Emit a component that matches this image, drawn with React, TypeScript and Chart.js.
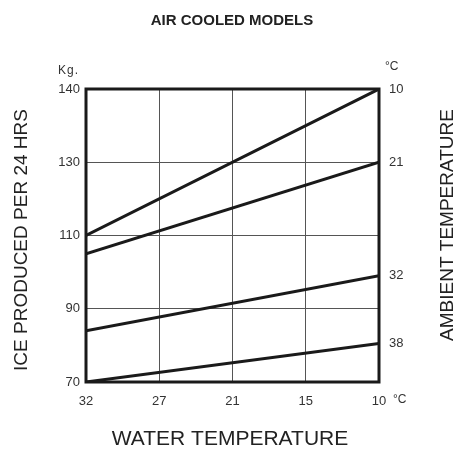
import React, { useEffect, useRef } from "react";
import { Chart, registerables } from "chart.js";

Chart.register(...registerables);

// Axis tick labels (equally spaced on the chart, non-linear values)
const yTickValues = [70, 90, 110, 130, 140]; // Kg
const xTickValues = [32, 27, 21, 15, 10]; // water temperature °C

// Water temperature at the two ends of each line
const waterTemps = [32, 10];

// Ice produced per 24 hrs (Kg) for each ambient temperature
const ambient10 = [110, 140];
const ambient21 = [105, 130];
const ambient32 = [84, 99];
const ambient38 = [70, 80.5];

const ambientLabels = ["10", "21", "32", "38"];
const ambientSeries = [ambient10, ambient21, ambient32, ambient38];

const FONT = "'Liberation Sans', Arial, Helvetica, sans-serif";

function piecewise(v: number, vals: number[]): number {
  for (let i = 0; i < vals.length - 1; i++) {
    const a = vals[i], b = vals[i + 1];
    const lo = Math.min(a, b), hi = Math.max(a, b);
    if (v >= lo && v <= hi) return i + (v - a) / (b - a);
  }
  return v < Math.min(vals[0], vals[vals.length - 1]) ? 0 : vals.length - 1;
}

const kgPos = (v: number) => piecewise(v, yTickValues);
const wtPos = (v: number) => piecewise(v, xTickValues);

export default function App() {
  const ref = useRef<HTMLCanvasElement | null>(null);

  useEffect(() => {
    if (!ref.current) return;

    const textPlugin = {
      id: "texts",
      afterDraw(chart: any) {
        const ctx = chart.ctx as CanvasRenderingContext2D;
        const { left, right, top, bottom } = chart.chartArea;
        ctx.save();
        // frame
        ctx.strokeStyle = "#1a1a1a";
        ctx.lineWidth = 3;
        ctx.strokeRect(left, top, right - left, bottom - top);

        ctx.fillStyle = "#222";
        ctx.textAlign = "center";
        ctx.textBaseline = "middle";
        ctx.font = `bold 15px ${FONT}`;
        ctx.fillText("AIR COOLED MODELS", 232, 21);

        ctx.font = `21px ${FONT}`;
        ctx.fillText("WATER TEMPERATURE", 230, 439);

        ctx.font = `19px ${FONT}`;
        ctx.save();
        ctx.translate(22, 240);
        ctx.rotate(-Math.PI / 2);
        ctx.fillText("ICE PRODUCED PER 24 HRS", 0, 0);
        ctx.restore();

        ctx.save();
        ctx.translate(448, 225);
        ctx.rotate(-Math.PI / 2);
        ctx.fillText("AMBIENT TEMPERATURE", 0, 0);
        ctx.restore();

        ctx.font = `12px ${FONT}`;
        ctx.fillStyle = "#333";
        (ctx as any).letterSpacing = "1px";
        ctx.textAlign = "left";
        ctx.fillText("Kg.", 58, 71);
        (ctx as any).letterSpacing = "0px";
        ctx.fillText("°C", 385, 67);
        ctx.fillText("°C", 393, 400);
        ctx.restore();
      },
    };

    const datasets = ambientSeries.map((s, i) => ({
      label: ambientLabels[i],
      data: s.map((v, j) => ({ x: wtPos(waterTemps[j]), y: kgPos(v) })),
      borderColor: "#1a1a1a",
      borderWidth: 3,
      pointRadius: 0,
      fill: false,
      tension: 0,
    }));

    const lineEnds = ambientSeries.map((s) => kgPos(s[s.length - 1]));

    const chart = new Chart(ref.current, {
      type: "line",
      data: { datasets },
      options: {
        animation: false,
        responsive: false,
        maintainAspectRatio: false,
        layout: { padding: { top: 89, left: 0, right: 0, bottom: 0 } },
        plugins: {
          legend: { display: false },
          tooltip: { enabled: false },
          title: { display: false },
        },
        scales: {
          x: {
            type: "linear",
            min: 0,
            max: xTickValues.length - 1,
            afterFit: (s: any) => {
              s.height = 70;
            },
            ticks: {
              stepSize: 1,
              padding: 12,
              color: "#333",
              font: { family: FONT, size: 13 },
              callback: (v: any) => String(xTickValues[Math.round(v)] ?? ""),
              maxRotation: 0,
              autoSkip: false,
            },
            grid: { color: "#555", lineWidth: 1, drawTicks: false },
            border: { display: false },
          },
          y: {
            type: "linear",
            position: "left",
            min: 0,
            max: yTickValues.length - 1,
            afterFit: (s: any) => {
              s.width = 86;
            },
            ticks: {
              stepSize: 1,
              padding: 6,
              color: "#333",
              font: { family: FONT, size: 13 },
              callback: (v: any) => String(yTickValues[Math.round(v)] ?? ""),
              autoSkip: false,
            },
            grid: { color: "#555", lineWidth: 1, drawTicks: false },
            border: { display: false },
          },
          y1: {
            type: "linear",
            position: "right",
            min: 0,
            max: yTickValues.length - 1,
            afterFit: (s: any) => {
              s.width = 81;
            },
            afterBuildTicks: (s: any) => {
              s.ticks = lineEnds.map((p) => ({ value: p }));
            },
            ticks: {
              padding: 10,
              color: "#333",
              font: { family: FONT, size: 13 },
              callback: (_v: any, i: number) => ambientLabels[i],
              autoSkip: false,
            },
            grid: { drawOnChartArea: false, drawTicks: false },
            border: { display: false },
          },
        },
      },
      plugins: [textPlugin],
    } as any);

    return () => chart.destroy();
  }, []);

  return (
    <div style={{ position: "fixed", left: 0, top: 0, width: 460, height: 452, background: "#fff" }}>
      <canvas ref={ref} width={460} height={452} style={{ display: "block" }} />
    </div>
  );
}
